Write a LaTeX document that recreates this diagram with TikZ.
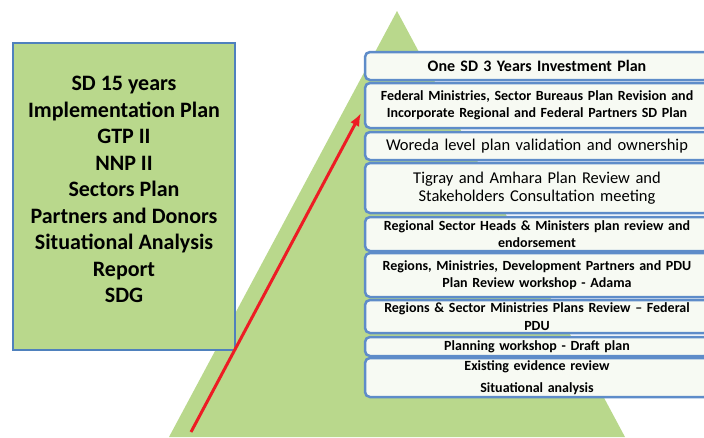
\documentclass[tikz,border=0pt]{standalone}
\usepackage{fontspec}
\setmainfont{Carlito}
\usetikzlibrary{arrows.meta}
\definecolor{pyrgreen}{RGB}{185,216,140}
\definecolor{inputblue}{RGB}{79,129,189}
\definecolor{stepblue}{RGB}{94,140,201}
\definecolor{stepfill}{RGB}{247,250,243}
\definecolor{arrowred}{RGB}{237,28,36}
\tikzset{
  inputbox/.style={
    rectangle,
    draw=inputblue,
    line width=2.5pt,
    fill=pyrgreen,
    align=center,
    inner sep=0pt,
    minimum width=222pt,
    minimum height=307pt,
    font=\fontsize{22}{26.5}\selectfont\bfseries
  },
  stepbox/.style={
    rectangle,
    rounded corners=5pt,
    draw=stepblue,
    line width=2.5pt,
    fill=stepfill,
    align=center,
    inner sep=0pt,
    minimum width=344pt,
    text width=340pt,
    font=\fontsize{14}{17.5}\selectfont\bfseries
  },
  plainstep/.style={
    stepbox,
    font=\fontsize{16.5}{17.5}\selectfont
  },
  arrow/.style={-{Latex[length=13pt,width=10pt]}, line width=3pt, arrowred}
}

\begin{document}
\begin{tikzpicture}[x=1pt,y=-1pt]
\useasboundingbox (0,0) rectangle (704,437);
\clip (0,0) rectangle (704,437);
\fill[pyrgreen] (397,11) -- (625,437) -- (169,437) -- cycle;

\node[inputbox] (inputs) at (124,196.5) {SD 15 years\\Implementation Plan\\GTP II\\NNP II\\Sectors Plan\\Partners and Donors\\Situational Analysis\\Report\\SDG\\[-12.5pt]};

\node[stepbox, minimum height=28pt, font=\fontsize{16}{19}\selectfont\bfseries] (invest) at (537,66) {One SD 3 Years Investment Plan};
\node[stepbox, minimum height=45pt] (federal) at (537,105.5) {Federal Ministries, Sector Bureaus Plan Revision and\\Incorporate Regional and Federal Partners SD Plan};
\node[plainstep, minimum height=28pt] (woreda) at (537,146) {Woreda level plan validation and ownership};
\node[plainstep, minimum height=50pt] (tigray) at (537,188) {Tigray and Amhara Plan Review and\\Stakeholders Consultation meeting};
\node[stepbox, minimum height=34pt] (regional) at (537,234) {Regional Sector Heads \& Ministers plan review and\\endorsement};
\node[stepbox, minimum height=44pt] (adama) at (537,275) {Regions, Ministries, Development Partners and PDU\\Plan Review workshop - Adama};
\node[stepbox, minimum height=33pt] (fedpdu) at (537,316.5) {Regions \& Sector Ministries Plans Review -- Federal\\PDU};
\node[stepbox, minimum height=19pt] (draft) at (537,346.5) {Planning workshop - Draft plan};
\node[stepbox, minimum height=39pt] (evidence) at (537,377.5) {Existing evidence review\\[4pt]Situational analysis};

\coordinate (arrowstart) at (191,432);
\coordinate (arrowtip) at (361,113);
\draw[arrow] (arrowstart) -- (arrowtip);
\end{tikzpicture}
\end{document}
